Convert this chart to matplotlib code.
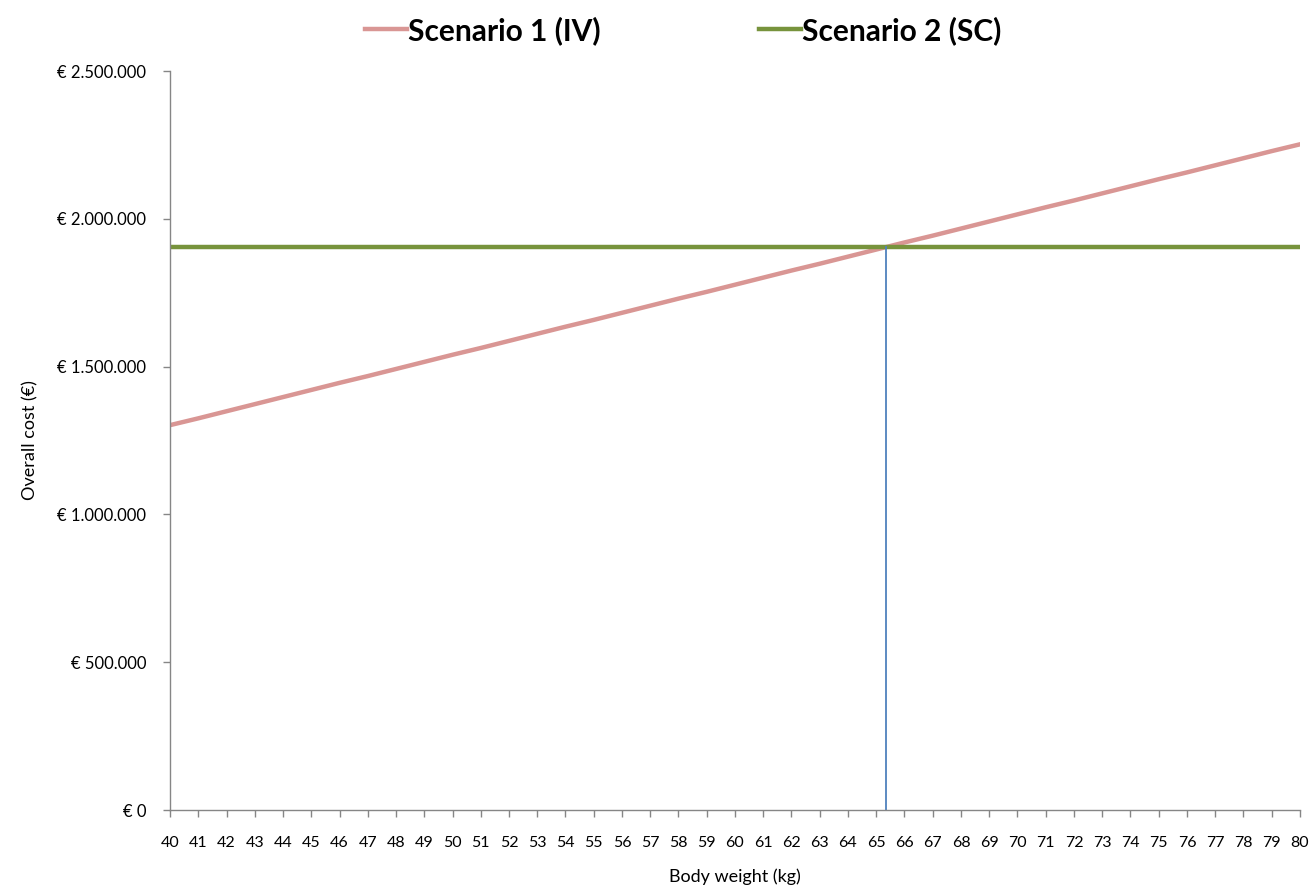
import matplotlib.pyplot as plt
from matplotlib.ticker import FuncFormatter

plt.rcParams['font.family'] = ['Lato', 'DejaVu Sans']

weights = list(range(40, 81))
iv_cost = [1302000, 1325000, 1349000, 1373000, 1397000, 1421000, 1445000, 1468000,
           1492000, 1516000, 1540000, 1563000, 1587000, 1611000, 1635000, 1658000,
           1682000, 1706000, 1730000, 1753000, 1777000, 1801000, 1825000, 1848000,
           1872000, 1896000, 1920000, 1943000, 1967000, 1991000, 2015000, 2039000,
           2062000, 2086000, 2110000, 2134000, 2157000, 2181000, 2205000, 2229000,
           2252000]
sc_cost = [1905000] * len(weights)
break_even_weight = 65.35
break_even_cost = 1905000

fig = plt.figure(figsize=(13.14, 8.92), dpi=100)
ax = fig.add_axes([0.1294, 0.0919, 0.8599, 0.8285])

ax.plot(weights, iv_cost, color='#D99694', lw=3.2, label='Scenario 1 (IV)')
ax.plot(weights, sc_cost, color='#77933C', lw=3.2, label='Scenario 2 (SC)')
ax.plot([break_even_weight, break_even_weight], [0, break_even_cost], color='#4F81BD', lw=1.3)

ax.set_xlim(40, 80)
ax.set_ylim(0, 2500000)
ax.set_xticks(weights)
ax.set_yticks(range(0, 2500001, 500000))


def euro(v, pos):
    return '€ ' + format(int(v), ',').replace(',', '.')


ax.yaxis.set_major_formatter(FuncFormatter(euro))

for side in ['top', 'right']:
    ax.spines[side].set_visible(False)
for side in ['left', 'bottom']:
    ax.spines[side].set_color('#868686')
    ax.spines[side].set_linewidth(1)
ax.tick_params(colors='#868686', labelcolor='black', labelsize=12, length=5, width=1)
ax.tick_params(axis='x', pad=14, labelsize=11.5)
ax.tick_params(axis='y', pad=12)

ax.set_xlabel('Body weight (kg)', fontsize=13, labelpad=13)
ax.set_ylabel('Overall cost (€)', fontsize=13, labelpad=14)

fig.legend(loc='center', bbox_to_anchor=(0.520, 0.966), ncol=2, frameon=False,
           prop={'weight': 'bold', 'size': 21.5}, handlelength=1.4,
           handletextpad=0.05, columnspacing=5.3)

fig.savefig('out.png', dpi=100)
